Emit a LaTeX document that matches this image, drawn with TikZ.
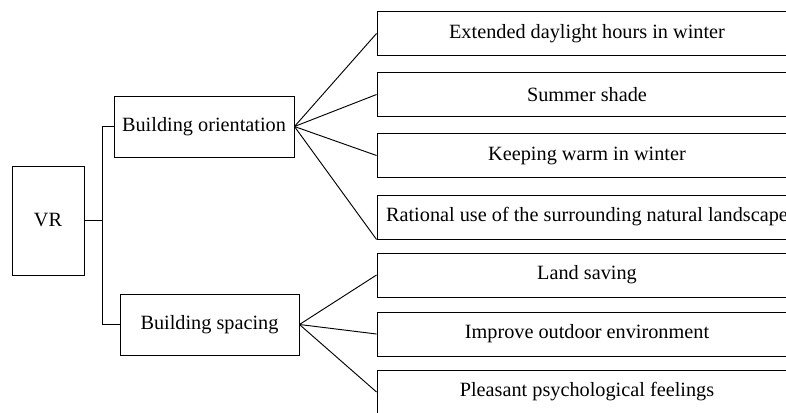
\documentclass[tikz,border=0pt]{standalone}
\usepackage{fontspec}
\setmainfont{Liberation Serif}
\begin{document}
\begin{tikzpicture}[x=0.75pt,y=-0.75pt,
  box/.style={draw, line width=0.7pt, inner sep=0pt, font=\fontsize{15.2}{18}\selectfont},
  leaf/.style={box, minimum width=315pt, minimum height=32.6pt},
  mid/.style={box, minimum width=135pt, minimum height=45.75pt},
  link/.style={line width=0.7pt}]
\useasboundingbox (0,0) rectangle (786,412);
\clip (0,0) rectangle (786,412);
\node[box, minimum width=54pt, minimum height=81.75pt] (VR) at (48,220.5) {VR};
\node[mid] (BO) at (204,126.5) {Building orientation};
\node[mid, minimum width=134.25pt] (BS) at (209.5,324.5) {Building spacing};
\node[leaf] (R1) at (587,33.5) {Extended daylight hours in winter};
\node[leaf] (R2) at (587,94.5) {Summer shade};
\node[leaf] (R3) at (587,155.5) {Keeping warm in winter};
\node[leaf, minimum height=33pt] (R4) at (587,217) {Rational use of the surrounding natural landscape};
\node[leaf, minimum height=33pt] (R5) at (587,275) {Land saving};
\node[leaf, minimum height=33pt] (R6) at (587,334) {Improve outdoor environment};
\node[leaf, minimum height=33pt] (R7) at (587,392) {Pleasant psychological feelings};
\coordinate (j) at (102,220.5);
\draw[link] (VR.east) -- (j);
\draw[link] (j) |- (BO.west);
\draw[link] (j) |- (BS.west);
\foreach \t in {R1,R2,R3} \draw[link] (BO.east) -- (\t.west);
\draw[link] (BO.east) -- (R4.south west);
\foreach \t in {R5,R6,R7} \draw[link] (BS.east) -- (\t.west);
\end{tikzpicture}
\end{document}
